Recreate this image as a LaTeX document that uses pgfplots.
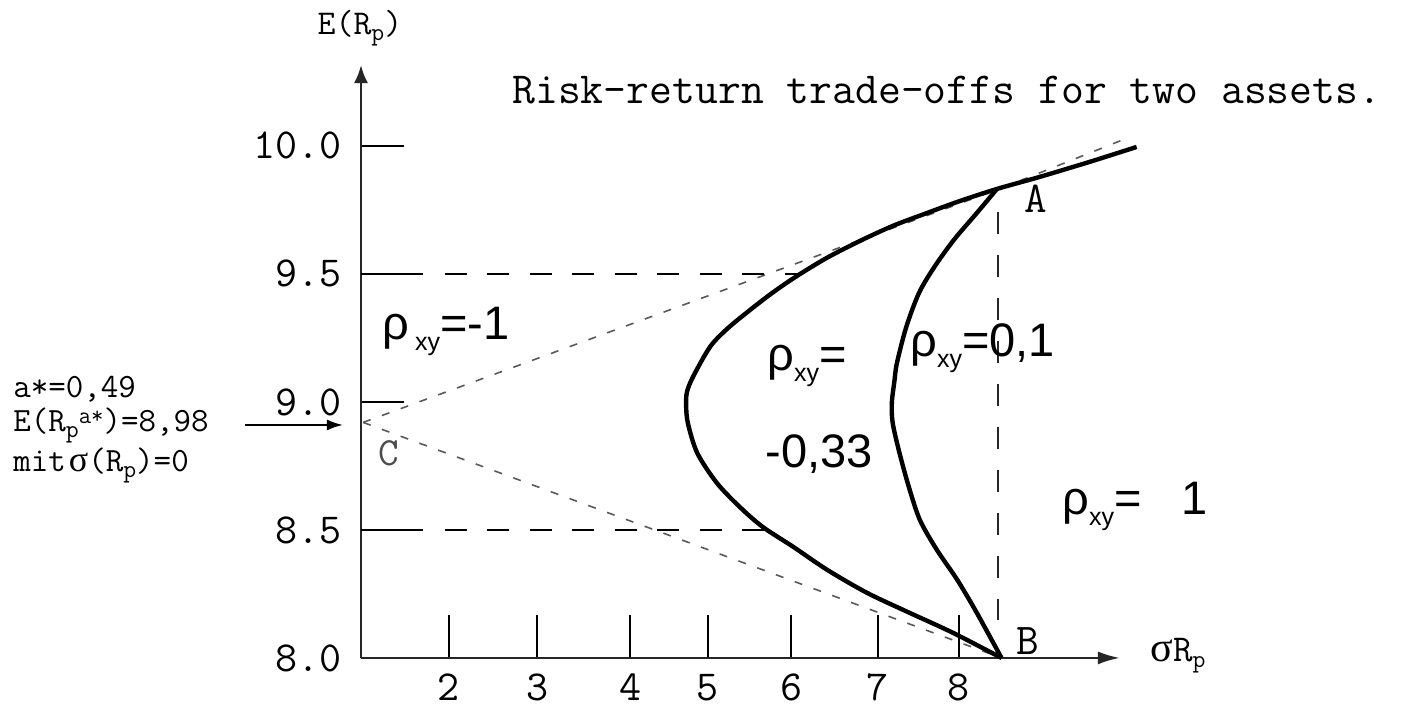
\documentclass[border=0pt]{standalone}
\usepackage{fontspec}
\usepackage{pgfplots}
\pgfplotsset{compat=1.18}
\usetikzlibrary{arrows.meta}

% typewriter text in Latin Modern Mono, Greek letters from Liberation
\newfontfamily\sans{Liberation Sans}
\newfontfamily\greek{Liberation Serif}

% font sizes
\newcommand\tickfont{\ttfamily\fontsize{21.4}{24}\selectfont}
\newcommand\annfont{\ttfamily\fontsize{17}{20}\selectfont}
\newcommand\rhofont{\sans\fontsize{23.5}{26}\selectfont}
% correlation coefficient symbol with lowered "xy"
\newcommand\rxy{ρ\raisebox{-5.5pt}{\fontsize{12.5}{13}\selectfont xy}}
% small raised / lowered typewriter text
\newcommand\up[1]{\raisebox{4pt}{\fontsize{12}{12}\selectfont #1}}
\newcommand\dn[1]{\raisebox{-3pt}{\fontsize{12.5}{12}\selectfont #1}}

\begin{document}
\begin{tikzpicture}
\begin{axis}[
  x=42.5pt, y=128pt,
  xmin=0.965, xmax=9.894, ymin=8, ymax=10.316,
  axis lines=left,
  clip=false,
  axis line style={line width=1.3pt, black!85},
  x axis line style={-{Latex[length=11pt,width=6.5pt]}},
  y axis line style={-{Latex[length=9pt,width=7pt]}},
  tick align=inside,
  major tick length=21.5pt,
  major tick style={line width=1pt, black},
  xtick={2,3.036,4.130,5.047,6.024,7.047,8},
  xticklabels={2,3,4,5,6,7,8},
  ytick={8,8.5,9,9.5,10},
  yticklabels={8.0,8.5,9.0,9.5,10.0},
  tick label style={font=\tickfont, inner sep=0pt},
  xticklabel style={anchor=base, yshift=-21.5pt},
  yticklabel style={anchor=east, xshift=-9.5pt},
]

% reference levels 9.5 and 8.5
\addplot[line width=1pt, black] coordinates {(0.965,9.5) (1.694,9.5)};
\addplot[line width=1pt, black, dash pattern=on 11pt off 10.25pt] coordinates {(1.953,9.5) (6.094,9.5)};
\addplot[line width=1pt, black] coordinates {(0.965,8.5) (1.694,8.5)};
\addplot[line width=1pt, black, dash pattern=on 11pt off 10.25pt] coordinates {(1.953,8.5) (5.718,8.5)};

% rho = 1 : vertical line from B to A
\addplot[line width=1pt, black!85, dash pattern=on 11pt off 10.5pt] coordinates {(8.46,9.74) (8.46,8.148)};

% rho = -1 : straight lines through C
\addplot[line width=0.8pt, black!65, dash pattern=on 4pt off 6pt] coordinates {(0.99,8.92) (8.46,9.83) (10.012,10.035)};
\addplot[line width=0.8pt, black!65, dash pattern=on 4pt off 6pt] coordinates {(0.99,8.92) (8.50,8.0)};

% rho = -0.33
\addplot[line width=2.2pt, black, smooth, tension=0.5] coordinates {
  (8.50,8.000) (7.93,8.098) (7.42,8.176) (6.92,8.254) (6.45,8.344)
  (6.05,8.434) (5.69,8.512) (5.42,8.590) (5.15,8.684) (4.92,8.801)
  (4.81,8.918) (4.79,8.988) (4.80,9.039) (4.871,9.098) (5.071,9.215)
  (5.271,9.285) (5.541,9.359) (5.812,9.428) (6.094,9.492) (6.447,9.563)
  (6.836,9.629) (7.224,9.688) (7.624,9.738) (8.012,9.785) (8.447,9.832)
  (8.95,9.879) (9.54,9.938) (10.09,9.996)};

% rho = 0.1
\addplot[line width=2.2pt, black, smooth, tension=0.5] coordinates {
  (8.50,8.000) (8.21,8.176) (7.98,8.305) (7.74,8.422) (7.54,8.539)
  (7.41,8.668) (7.30,8.801) (7.22,8.918) (7.21,8.996) (7.24,9.080)
  (7.27,9.152) (7.38,9.293) (7.53,9.426) (7.71,9.527) (7.94,9.633)
  (8.21,9.738) (8.447,9.832)};

% arrow to the minimum-variance point C
\addplot[line width=1pt, black, -{Latex[length=8pt,width=5.5pt]}] coordinates {(-0.400,8.91) (0.753,8.91)};

% labels
\node[anchor=base west, inner sep=0pt, font=\ttfamily\fontsize{22.2}{25}\selectfont] at (axis cs:2.741,10.164) {Risk-return trade-offs for two assets.};
\node[anchor=base, inner sep=0pt, font=\ttfamily\fontsize{17.4}{20}\selectfont] at (axis cs:0.953,10.434) {E(R\dn{p})};
\node[anchor=base west, inner sep=0pt, font=\ttfamily\fontsize{19}{21}\selectfont] at (axis cs:10.247,7.988) {{\greek\fontsize{21}{22}\selectfont σ}R\dn{p}};

\node[anchor=base west, inner sep=0pt, font=\annfont] at (axis cs:-3.129,9.016) {a*=0,49};
\node[anchor=base west, inner sep=0pt, font=\annfont] at (axis cs:-3.129,8.883) {E(R\dn{p}\up{a*})=8,98};
\node[anchor=base west, inner sep=0pt, font=\annfont] at (axis cs:-3.129,8.727) {mit\hspace{1.5pt}{\greek\fontsize{18}{20}\selectfont σ}(R\dn{p})=0};

\node[inner sep=0pt, font=\ttfamily\fontsize{22}{24}\selectfont] at (axis cs:8.906,9.793) {A};
\node[inner sep=0pt, font=\ttfamily\fontsize{22}{24}\selectfont] at (axis cs:8.812,8.066) {B};
\node[inner sep=0pt, text=black!70, font=\ttfamily\fontsize{20}{22}\selectfont] at (axis cs:1.294,8.801) {C};

\node[anchor=base west, inner sep=0pt, font=\rhofont] at (axis cs:1.212,9.242) {ρ\hspace{3pt}\raisebox{-5.5pt}{\fontsize{12.5}{13}\selectfont xy}=-1};
\node[anchor=base west, inner sep=0pt, font=\rhofont] at (axis cs:5.741,9.121) {\rxy=};
\node[anchor=base west, inner sep=0pt, font=\rhofont] at (axis cs:5.718,8.742) {-0,33};
\node[anchor=base west, inner sep=0pt, font=\rhofont] at (axis cs:7.424,9.176) {\rxy=0,1};
\node[anchor=base west, inner sep=0pt, font=\rhofont] at (axis cs:9.212,8.559) {\rxy=\hspace{20pt}1};

% page extent
\coordinate (sw) at (axis cs:-3.282,7.805);
\coordinate (ne) at (axis cs:13.412,10.570);
\end{axis}
\pgfresetboundingbox
\useasboundingbox (sw) rectangle (ne);
\end{tikzpicture}
\end{document}
